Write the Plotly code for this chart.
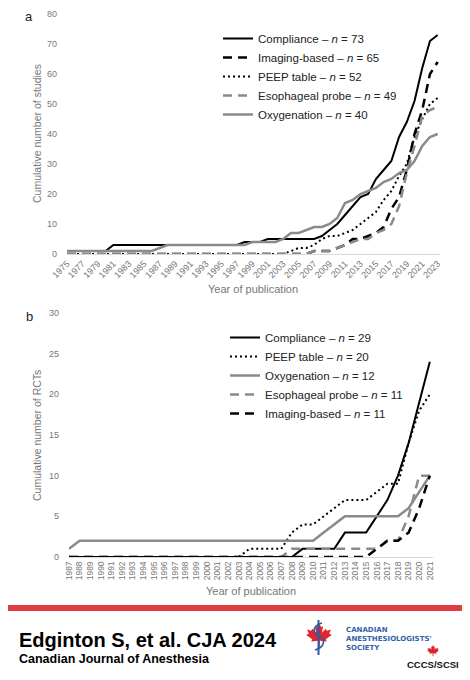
import plotly.graph_objects as go

# the page puts the plot 8px in from the top-left corner, so the figure is
# drawn 16px smaller and all positions below are given in page pixels
PAGE_W, PAGE_H = 470, 680
OFF = 8
W, H = PAGE_W - 2 * OFF, PAGE_H - 2 * OFF

# ---- panel a : cumulative number of studies (1975-2023)
yearsA = list(range(1975, 2024))
complianceA = [1, 1, 1, 1, 1, 1, 3, 3, 3, 3,      # 1975-1984
               3, 3, 3, 3, 3, 3, 3, 3, 3, 3,      # 1985-1994
               3, 3, 3, 4, 4, 4, 5, 5, 5, 5,      # 1995-2004
               5, 5, 5, 6, 8, 10, 13, 16, 19, 20,  # 2005-2014
               25, 28, 31, 39, 44, 51, 62, 71, 73]  # 2015-2023
imagingA = [0, 0, 0, 0, 0, 0, 0, 0, 0, 0,
            0, 0, 0, 0, 0, 0, 0, 0, 0, 0,
            0, 0, 0, 0, 0, 0, 0, 0, 0, 0,
            0, 0, 1, 1, 1, 2, 3, 5, 5, 6,
            7, 9, 15, 19, 28, 40, 48, 60, 64]
peepA = [0, 0, 0, 0, 0, 0, 0, 0, 0, 0,
         0, 0, 0, 0, 0, 0, 0, 0, 0, 0,
         0, 0, 0, 0, 0, 0, 0, 0, 0, 1,
         2, 2, 3, 5, 6, 6, 7, 8, 10, 12,
         14, 18, 21, 26, 30, 39, 45, 50, 52]
esophagealA = [0, 0, 0, 0, 0, 0, 0, 0, 0, 0,
               0, 0, 0, 0, 0, 0, 0, 0, 0, 0,
               0, 0, 0, 0, 0, 0, 0, 0, 0, 0,
               0, 0, 1, 1, 1, 2, 3, 4, 5, 5,
               7, 8, 10, 16, 27, 36, 46, 48, 49]
oxygenationA = [1, 1, 1, 1, 1, 1, 1, 1, 1, 1,
                1, 1, 2, 3, 3, 3, 3, 3, 3, 3,
                3, 3, 3, 3, 4, 4, 4, 4, 5, 7,
                7, 8, 9, 9, 10, 12, 17, 18, 20, 21,
                22, 24, 25, 27, 28, 31, 36, 39, 40]
namesA = ["Compliance", "Imaging-based", "PEEP table", "Esophageal probe", "Oxygenation"]
totalsA = [73, 65, 52, 49, 40]

# ---- panel b : cumulative number of RCTs (1987-2021)
yearsB = list(range(1987, 2022))
complianceB = [0, 0, 0, 0, 0, 0, 0, 0, 0, 0,   # 1987-1996
               0, 0, 0, 0, 0, 0, 0, 0, 0, 0,   # 1997-2006
               0, 0, 1, 1, 1, 1, 3, 3, 3, 5,   # 2007-2016
               7, 10, 14, 19, 24]              # 2017-2021
peepB = [0, 0, 0, 0, 0, 0, 0, 0, 0, 0,
         0, 0, 0, 0, 0, 0, 0, 1, 1, 1,
         1, 3, 4, 4, 5, 6, 7, 7, 7, 8,
         9, 9, 14, 18, 20]
oxygenationB = [1, 2, 2, 2, 2, 2, 2, 2, 2, 2,
                2, 2, 2, 2, 2, 2, 2, 2, 2, 2,
                2, 2, 2, 2, 3, 4, 5, 5, 5, 5,
                5, 5, 6, 8, 10]
esophagealB = [0, 0, 0, 0, 0, 0, 0, 0, 0, 0,
               0, 0, 0, 0, 0, 0, 0, 0, 0, 0,
               0, 1, 1, 1, 1, 1, 1, 1, 1, 1,
               2, 2, 5, 10, 10]
imagingB = [0, 0, 0, 0, 0, 0, 0, 0, 0, 0,
            0, 0, 0, 0, 0, 0, 0, 0, 0, 0,
            0, 0, 0, 0, 0, 0, 0, 0, 0, 1,
            2, 2, 3, 6, 10]
namesB = ["Compliance", "PEEP table", "Oxygenation", "Esophageal probe", "Imaging-based"]
totalsB = [29, 20, 12, 11, 11]

# line look for each method
styles = {
    "Compliance": dict(color="black", width=2, dash="solid"),
    "Imaging-based": dict(color="black", width=2.5, dash="9px,6px"),
    "PEEP table": dict(color="black", width=2, dash="2px,3px"),
    "Esophageal probe": dict(color="#8a8a8a", width=2.5, dash="9px,6px"),
    "Oxygenation": dict(color="#8a8a8a", width=2.5, dash="solid"),
}

FONT = "Liberation Sans, Arial, sans-serif"
GREY = "#777777"


def px(x):
    return (x - OFF) / W


def py(y):
    return 1 - (y - OFF) / H


fig = go.Figure()

seriesA = [complianceA, imagingA, peepA, esophagealA, oxygenationA]
for name, n, vals in zip(namesA, totalsA, seriesA):
    fig.add_trace(go.Scatter(x=yearsA, y=vals, mode="lines", line=styles[name],
                             name=name + " \u2013 <i>n</i> = " + str(n),
                             xaxis="x", yaxis="y", legend="legend"))

seriesB = [complianceB, peepB, oxygenationB, esophagealB, imagingB]
for name, n, vals in zip(namesB, totalsB, seriesB):
    fig.add_trace(go.Scatter(x=yearsB, y=vals, mode="lines", line=styles[name],
                             name=name + " \u2013 <i>n</i> = " + str(n),
                             xaxis="x2", yaxis="y2", legend="legend2"))

tickfont = dict(family=FONT, size=9, color=GREY)
axis_common = dict(showgrid=False, zeroline=False, ticks="", fixedrange=True, automargin=False)
legfont = dict(family=FONT, size=11.5, color="#222")

fig.update_layout(
    width=W, height=H,
    margin=dict(l=0, r=0, t=0, b=0, pad=0, autoexpand=False),
    paper_bgcolor="white", plot_bgcolor="white",
    font=dict(family=FONT, color="#222"),
    xaxis=dict(domain=[px(67), px(440)], range=[1975, 2023.3], anchor="y",
               tickmode="linear", tick0=1975, dtick=2, tickangle=-45,
               tickfont=tickfont, showline=True, linecolor="#d8d8d8", linewidth=1,
               **axis_common),
    yaxis=dict(domain=[py(254), py(14)], range=[0, 80], anchor="x",
               tickmode="linear", tick0=0, dtick=10, tickfont=tickfont,
               ticklabelstandoff=9, showline=False, **axis_common),
    xaxis2=dict(domain=[px(69), px(433)], range=[1987, 2021.3], anchor="y2",
                tickmode="linear", tick0=1987, dtick=1, tickangle=-90,
                tickfont=dict(family=FONT, size=8.5, color=GREY),
                showline=True, linecolor="#d8d8d8", linewidth=1, **axis_common),
    yaxis2=dict(domain=[py(557), py(313)], range=[0, 30], anchor="x2",
                tickmode="linear", tick0=0, dtick=5, tickfont=tickfont,
                ticklabelstandoff=9, showline=False, **axis_common),
    legend=dict(x=px(218), y=py(24), xanchor="left", yanchor="top",
                bgcolor="rgba(0,0,0,0)", itemwidth=30, font=legfont),
    legend2=dict(x=px(225), y=py(323), xanchor="left", yanchor="top",
                 bgcolor="rgba(0,0,0,0)", itemwidth=30, font=legfont),
    showlegend=True,
)

ann = []
# panel letters
ann.append(dict(text="a", x=px(29), y=py(16), font=dict(size=13, color="#222")))
ann.append(dict(text="b", x=px(29), y=py(316), font=dict(size=13, color="#222")))
# axis titles
ann.append(dict(text="Cumulative number of studies", x=px(37), y=py(134), textangle=-90,
                font=dict(size=10.5, color=GREY)))
ann.append(dict(text="Year of publication", x=px(253), y=py(289),
                font=dict(size=11, color=GREY)))
ann.append(dict(text="Cumulative number of RCTs", x=px(37), y=py(436), textangle=-90,
                font=dict(size=10.5, color=GREY)))
ann.append(dict(text="Year of publication", x=px(251), y=py(591),
                font=dict(size=11, color=GREY)))
# footer text
ann.append(dict(text="<b>Edginton S, et al. CJA 2024</b>", x=px(17), y=py(640),
                xanchor="left", font=dict(size=20, color="black")))
ann.append(dict(text="<b>Canadian Journal of Anesthesia</b>", x=px(17), y=py(659),
                xanchor="left", font=dict(size=12.5, color="black")))
ann.append(dict(text="<b>CANADIAN<br>ANESTHESIOLOGISTS'<br>SOCIETY</b>", x=px(344), y=py(639),
                xanchor="left", align="left",
                font=dict(size=7, color="#3462a8", family="DejaVu Sans, sans-serif")))
ann.append(dict(text="<b>CCCS/SCSI</b>", x=px(433), y=py(664),
                font=dict(size=9.5, color="#111", family=FONT)))
for a in ann:
    a.update(xref="paper", yref="paper", showarrow=False)
    a.setdefault("xanchor", "center")
    a.setdefault("yanchor", "middle")
fig.update_layout(annotations=ann)

# ---- footer decoration: red band and logos
shapes = []
shapes.append(dict(type="rect", xref="paper", yref="paper", x0=0, x1=1, y0=py(611), y1=py(605),
                   fillcolor="#e23b40", line=dict(width=0)))

# rough maple leaf outline (unit coords, y up)
leaf = [(0, 1.0), (0.15, 0.72), (0.27, 0.8), (0.2, 0.35), (0.45, 0.62), (0.52, 0.48),
        (0.8, 0.56), (0.68, 0.3), (0.85, 0.2), (0.45, -0.08), (0.52, -0.24), (0.06, -0.18),
        (0.06, -0.6), (-0.06, -0.6), (-0.06, -0.18), (-0.52, -0.24), (-0.45, -0.08),
        (-0.85, 0.2), (-0.68, 0.3), (-0.8, 0.56), (-0.52, 0.48), (-0.45, 0.62), (-0.2, 0.35),
        (-0.27, 0.8), (-0.15, 0.72)]


def leaf_path(cx, cy, r):
    pts = ["%.4f,%.4f" % (px(cx + r * u), py(cy - r * v)) for u, v in leaf]
    return "M" + " L".join(pts) + " Z"


shapes.append(dict(type="path", xref="paper", yref="paper", path=leaf_path(319, 638, 15),
                   fillcolor="#e0262c", line=dict(width=0)))
# staff and serpent of the caduceus
shapes.append(dict(type="line", xref="paper", yref="paper", x0=px(318.5), x1=px(318.5),
                   y0=py(655), y1=py(620), line=dict(color="#2b5aa6", width=2)))
snake = "M%.4f,%.4f C%.4f,%.4f %.4f,%.4f %.4f,%.4f C%.4f,%.4f %.4f,%.4f %.4f,%.4f" % (
    px(322), py(623), px(312), py(626), px(312), py(633), px(319), py(636),
    px(326), py(639), px(325), py(647), px(315), py(650))
shapes.append(dict(type="path", xref="paper", yref="paper", path=snake,
                   line=dict(color="#2b5aa6", width=1.6)))
# small leaf of the CCCS logo
shapes.append(dict(type="path", xref="paper", yref="paper", path=leaf_path(433, 652, 7),
                   fillcolor="#d8262c", line=dict(width=0)))
fig.update_layout(shapes=shapes)

fig.write_html("out.html")
